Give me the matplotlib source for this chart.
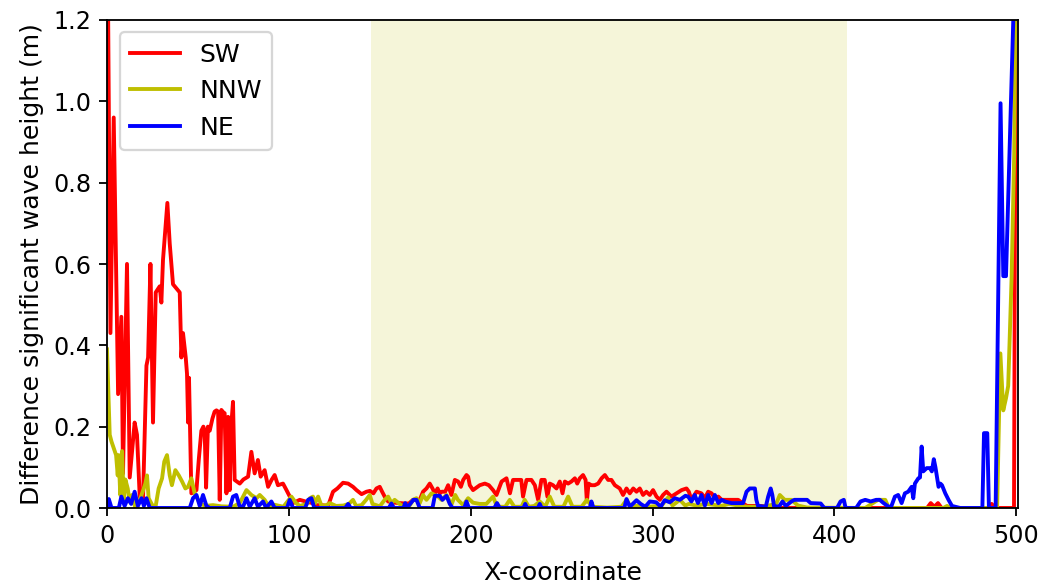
import numpy as np
import matplotlib
matplotlib.use('Agg')
import matplotlib.pyplot as plt

# Difference in significant wave height along the transect, per wave direction
sw_x = [0, 1.9, 3.7, 6.1, 7.9, 8.8, 11, 12.5, 15.2, 16.5, 18, 19.8, 21.7, 22.6, 23.9, 25.3,
        26.8, 29, 29.9, 30.8, 33.2, 34.5, 36.3, 40, 40.9, 41.8, 43.3, 44, 44.6, 45.1, 46.4, 48,
        49.2, 50.5, 51.9, 53, 53.7, 54.5, 55.5, 56.5, 58, 59.2, 60.2, 61.1, 62, 62.9, 64, 64.7,
        65.7, 66.6, 67.5, 68.3, 69.3, 70.2, 73, 75, 77.6, 79.4, 81.2, 83, 84.5, 86.7, 88.6, 90.5,
        92.2, 94, 96.8, 98.7, 101, 102.3, 106, 110, 113, 115, 118, 121.6, 124.3, 126.7, 129.8,
        132.6, 135.3, 137.2, 140, 142.7, 144.6, 146.5, 148.2, 150, 151.3, 152.7, 154.6, 158.2,
        164, 166, 168.3, 172, 173.8, 175.7, 177.5, 179, 180.3, 181.8, 183, 184.1, 186, 187.6,
        189.4, 191.3, 193.1, 194.6, 195.9, 197.7, 198.6, 199.5, 201.3, 205, 207.8, 210, 212.3,
        214.2, 217, 219.7, 221.6, 223.3, 226, 227.8, 228.8, 230.7, 233.4, 235.3, 237.1, 238.9,
        240.7, 242.2, 243.5, 245.3, 247.2, 249, 250.5, 251.8, 253.6, 255.4, 257.3, 258.6, 260,
        261.8, 263.2, 263.9, 264.8, 266.4, 268.2, 270.1, 272, 273.8, 275.6, 277.4, 279.3, 282,
        283.8, 285.7, 287.5, 289.4, 291.2, 293, 294.8, 296.6, 298.5, 300.3, 302.2, 304, 305.8,
        307.7, 310.4, 313.2, 316, 318.7, 320, 321.4, 324.2, 326.9, 328.8, 330.6, 332.5, 334.3,
        336.2, 338, 339.8, 343.4, 347.1, 349.8, 352, 360, 363, 366, 380, 400, 430, 451, 453,
        455, 457, 459, 461, 485, 486.5, 488.5, 490, 498.8, 500]
sw_y = [1.6, 0.43, 0.96, 0.28, 0.47, 0.085, 0.60, 0.075, 0.21, 0.18, 0.028, 0.02, 0.35, 0.37,
        0.60, 0.21, 0.53, 0.545, 0.505, 0.61, 0.75, 0.65, 0.55, 0.53, 0.37, 0.43, 0.37, 0.33,
        0.21, 0.32, 0.036, 0.04, 0.044, 0.12, 0.19, 0.20, 0.19, 0.05, 0.20, 0.19, 0.22, 0.237,
        0.24, 0.237, 0.02, 0.241, 0.235, 0.233, 0.036, 0.224, 0.044, 0.20, 0.261, 0.069, 0.06,
        0.07, 0.077, 0.138, 0.085, 0.118, 0.077, 0.093, 0.052, 0.069, 0.081, 0.056, 0.06, 0.044,
        0.024, 0.012, 0.02, 0.015, 0.012, 0.007, 0.007, 0.005, 0.04, 0.048, 0.062, 0.06, 0.052,
        0.044, 0.034, 0.04, 0.042, 0.036, 0.048, 0.052, 0.04, 0.028, 0.016, 0.013, 0.011, 0.011,
        0.02, 0.02, 0.04, 0.048, 0.06, 0.048, 0.036, 0.048, 0.036, 0.04, 0.04, 0.056, 0.032,
        0.069, 0.065, 0.052, 0.069, 0.081, 0.077, 0.056, 0.044, 0.056, 0.06, 0.056, 0.044, 0.032,
        0.065, 0.073, 0.036, 0.069, 0.069, 0.069, 0.028, 0.069, 0.069, 0.056, 0.02, 0.069, 0.069,
        0.028, 0.06, 0.056, 0.048, 0.065, 0.036, 0.065, 0.06, 0.065, 0.073, 0.06, 0.073, 0.081,
        0.069, 0.016, 0.06, 0.056, 0.056, 0.06, 0.073, 0.081, 0.069, 0.069, 0.056, 0.048, 0.032,
        0.048, 0.036, 0.048, 0.04, 0.048, 0.032, 0.04, 0.032, 0.044, 0.028, 0.02, 0.032, 0.04,
        0.028, 0.036, 0.044, 0.048, 0.04, 0.02, 0.04, 0.036, 0.024, 0.04, 0.036, 0.024, 0.028,
        0.02, 0.02, 0.02, 0.02, 0.011, 0.005, 0.005, 0.004, 0.0, 0.0, 0.0, 0.0, 0.0, 0.012,
        0.003, 0.012, 0.0, 0.0, 0.0, 0.01, 0.0, 0.0, 0.0, 1.6]

nnw_x = [0, 1.5, 2.5, 3.7, 5, 5.9, 6.4, 7.3, 8.3, 9.2, 10.1, 11.4, 12.5, 13.8, 15.6, 18.4, 21.1,
         22, 22.9, 24.8, 26.6, 28.4, 30.3, 31.5, 33, 34.5, 35.7, 37.6, 39.5, 41.3, 43.1, 44.6,
         46.4, 48.2, 51, 54, 58.3, 63, 69.3, 73, 76.7, 79.4, 82.2, 84, 86.7, 89, 92, 97, 101.4,
         104, 106, 110, 111.5, 113.3, 114.5, 116.1, 118, 120.6, 122.5, 126, 130, 133, 135.3, 137,
         140, 142.5, 144.5, 146, 150, 152.7, 154.6, 156.5, 158.2, 162, 166, 168.3, 170.2, 172,
         173.8, 175.7, 178.4, 182.1, 184, 186.7, 189.4, 191.5, 193, 195.9, 198.6, 201.3, 205,
         208.6, 212.3, 214.5, 219, 221.5, 224, 228, 229.7, 232, 235, 238, 241, 243.5, 246, 251,
         253.6, 256, 261, 263.9, 267, 275, 283, 285.7, 288, 292, 298, 305, 308.6, 311, 315, 318,
         320, 324, 330, 338, 342, 347, 352, 360, 364, 368, 370, 372.7, 376.4, 380, 385, 417, 424,
         428, 430, 460, 462, 464, 489.5, 491.3, 492.9, 494.4, 495.6, 497.5, 498.9, 500]
nnw_y = [0.39, 0.18, 0.163, 0.147, 0.13, 0.08, 0.13, 0.032, 0.14, 0.015, 0.07, 0.048, 0.015,
         0.032, 0.0, 0.024, 0.06, 0.08, 0.024, 0.008, 0.0, 0.048, 0.073, 0.114, 0.13, 0.08, 0.056,
         0.093, 0.08, 0.065, 0.048, 0.052, 0.073, 0.036, 0.012, 0.005, 0.007, 0.004, 0.003, 0.012,
         0.044, 0.032, 0.024, 0.032, 0.02, 0.003, 0.008, 0.003, 0.028, 0.012, 0.005, 0.01, 0.024,
         0.028, 0.012, 0.028, 0.005, 0.007, 0.012, 0.005, 0.006, 0.01, 0.02, 0.005, 0.007, 0.02,
         0.032, 0.01, 0.004, 0.02, 0.028, 0.012, 0.02, 0.006, 0.003, 0.02, 0.024, 0.012, 0.032,
         0.02, 0.036, 0.028, 0.02, 0.032, 0.008, 0.032, 0.02, 0.007, 0.024, 0.013, 0.01, 0.01,
         0.028, 0.003, 0.003, 0.02, 0.003, 0.003, 0.02, 0.003, 0.005, 0.016, 0.003, 0.028, 0.003,
         0.003, 0.028, 0.003, 0.003, 0.02, 0.003, 0.001, 0.003, 0.02, 0.003, 0.006, 0.003, 0.006,
         0.026, 0.006, 0.02, 0.006, 0.01, 0.006, 0.01, 0.005, 0.01, 0.006, 0.003, 0.003, 0.006,
         0.01, 0.032, 0.02, 0.02, 0.006, 0.001, 0.0, 0.02, 0.02, 0.0, 0.0, 0.005, 0.0, 0.0, 0.38,
         0.24, 0.27, 0.30, 0.57, 0.87, 1.5]

ne_x = [0, 1, 2.5, 6.5, 7.9, 9.7, 11.5, 13.3, 15.2, 17, 19, 20.3, 21.7, 23.5, 45.5, 47.3, 49.2,
        51, 52.8, 54.7, 56.5, 67.5, 69.3, 71.1, 73, 75, 76.7, 78.5, 81.2, 83, 85.8, 87.5, 90.4,
        92.2, 99, 100.5, 102.3, 109, 110.6, 112.4, 114, 131, 132.6, 134, 155, 156.4, 157.8, 163,
        164, 165, 168.5, 170.2, 172, 179, 180.3, 183, 184.5, 186.7, 188.5, 190, 196.5, 197.7,
        199, 213, 214.5, 216, 229, 230, 231, 237, 238, 239, 265.5, 266.4, 267.5, 284.5, 285.7,
        287.5, 291.2, 293.5, 296, 298.5, 302, 304.5, 306.7, 309.5, 312.3, 315, 318.1, 319.6,
        321.4, 323.2, 325, 326.9, 328.8, 330.6, 332.5, 334.3, 336.2, 338, 339.8, 343.4, 347.1,
        349.8, 351.7, 353.5, 356.3, 357.1, 358, 362.3, 363.6, 365, 365.9, 366.8, 369.5, 371.5,
        373.3, 376.4, 378, 380, 385, 387, 392.5, 394.5, 401.5, 403.4, 405.2, 406.2, 412, 414.4,
        417, 420, 423, 425, 426.8, 428.6, 431, 433.3, 435.1, 437, 438.8, 440.6, 442.5, 443.4,
        444.3, 446.2, 447.1, 448, 448.9, 450.8, 452.6, 453.6, 454.7, 455.6, 457.3, 458.3, 459.2,
        461, 462.8, 464.7, 469.2, 481.4, 482.3, 484.1, 485, 488.7, 491.4, 492.9, 494.4, 495.6,
        498.4, 500]
ne_y = [0.0, 0.022, 0.0, 0.0, 0.028, 0.005, 0.024, 0.01, 0.04, 0.005, 0.024, 0.005, 0.024, 0.0,
        0.0, 0.024, 0.032, 0.005, 0.032, 0.005, 0.0, 0.0, 0.028, 0.032, 0.003, 0.005, 0.024,
        0.003, 0.024, 0.003, 0.016, 0.0, 0.016, 0.0, 0.0, 0.02, 0.0, 0.0, 0.02, 0.024, 0.0, 0.0,
        0.01, 0.0, 0.0, 0.011, 0.0, 0.0, 0.012, 0.0, 0.02, 0.02, 0.0, 0.0, 0.03, 0.03, 0.02, 0.03,
        0.01, 0.0, 0.0, 0.016, 0.0, 0.0, 0.012, 0.0, 0.0, 0.01, 0.0, 0.0, 0.01, 0.0, 0.0, 0.016,
        0.0, 0.0, 0.022, 0.003, 0.019, 0.01, 0.003, 0.016, 0.014, 0.003, 0.019, 0.014, 0.024,
        0.02, 0.03, 0.028, 0.016, 0.032, 0.012, 0.032, 0.006, 0.032, 0.012, 0.032, 0.012, 0.02,
        0.016, 0.012, 0.012, 0.012, 0.04, 0.048, 0.048, 0.02, 0.005, 0.003, 0.028, 0.048, 0.032,
        0.005, 0.003, 0.016, 0.005, 0.016, 0.02, 0.02, 0.02, 0.012, 0.011, 0.0, 0.0, 0.016, 0.02,
        0.0, 0.0, 0.016, 0.02, 0.016, 0.02, 0.02, 0.013, 0.007, 0.0, 0.028, 0.032, 0.012, 0.036,
        0.04, 0.052, 0.024, 0.06, 0.073, 0.075, 0.151, 0.09, 0.098, 0.098, 0.09, 0.12, 0.1,
        0.052, 0.06, 0.056, 0.036, 0.02, 0.005, 0.0, 0.0, 0.184, 0.184, 0.0, 0.0, 0.995, 0.57,
        0.57, 0.757, 1.2, 1.45]

# extent of the highlighted stretch of the transect
band_start = 145
band_end = 407

fig = plt.figure(figsize=(6.4, 3.575), dpi=164.22)
ax = fig.add_axes([0.1018, 0.1346, 0.8668, 0.8314])

ax.axvspan(band_start, band_end, color='y', alpha=0.15, lw=0, zorder=0)
ax.plot(sw_x, sw_y, color='r', lw=1.7, label='SW')
ax.plot(nnw_x, nnw_y, color='y', lw=1.7, label='NNW')
ax.plot(ne_x, ne_y, color='b', lw=1.7, label='NE')

ax.set_xlim(0, 501)
ax.set_ylim(0, 1.2)
ax.set_xticks(np.arange(0, 501, 100))
ax.set_yticks(np.arange(0, 1.21, 0.2))
ax.tick_params(labelsize=10.5)
ax.set_xlabel('X-coordinate', fontsize=11, labelpad=5.5)
ax.set_ylabel('Difference significant wave height (m)', fontsize=11)
ax.legend(loc='upper left', fontsize=11)

fig.savefig('out.png', dpi=164.22)
